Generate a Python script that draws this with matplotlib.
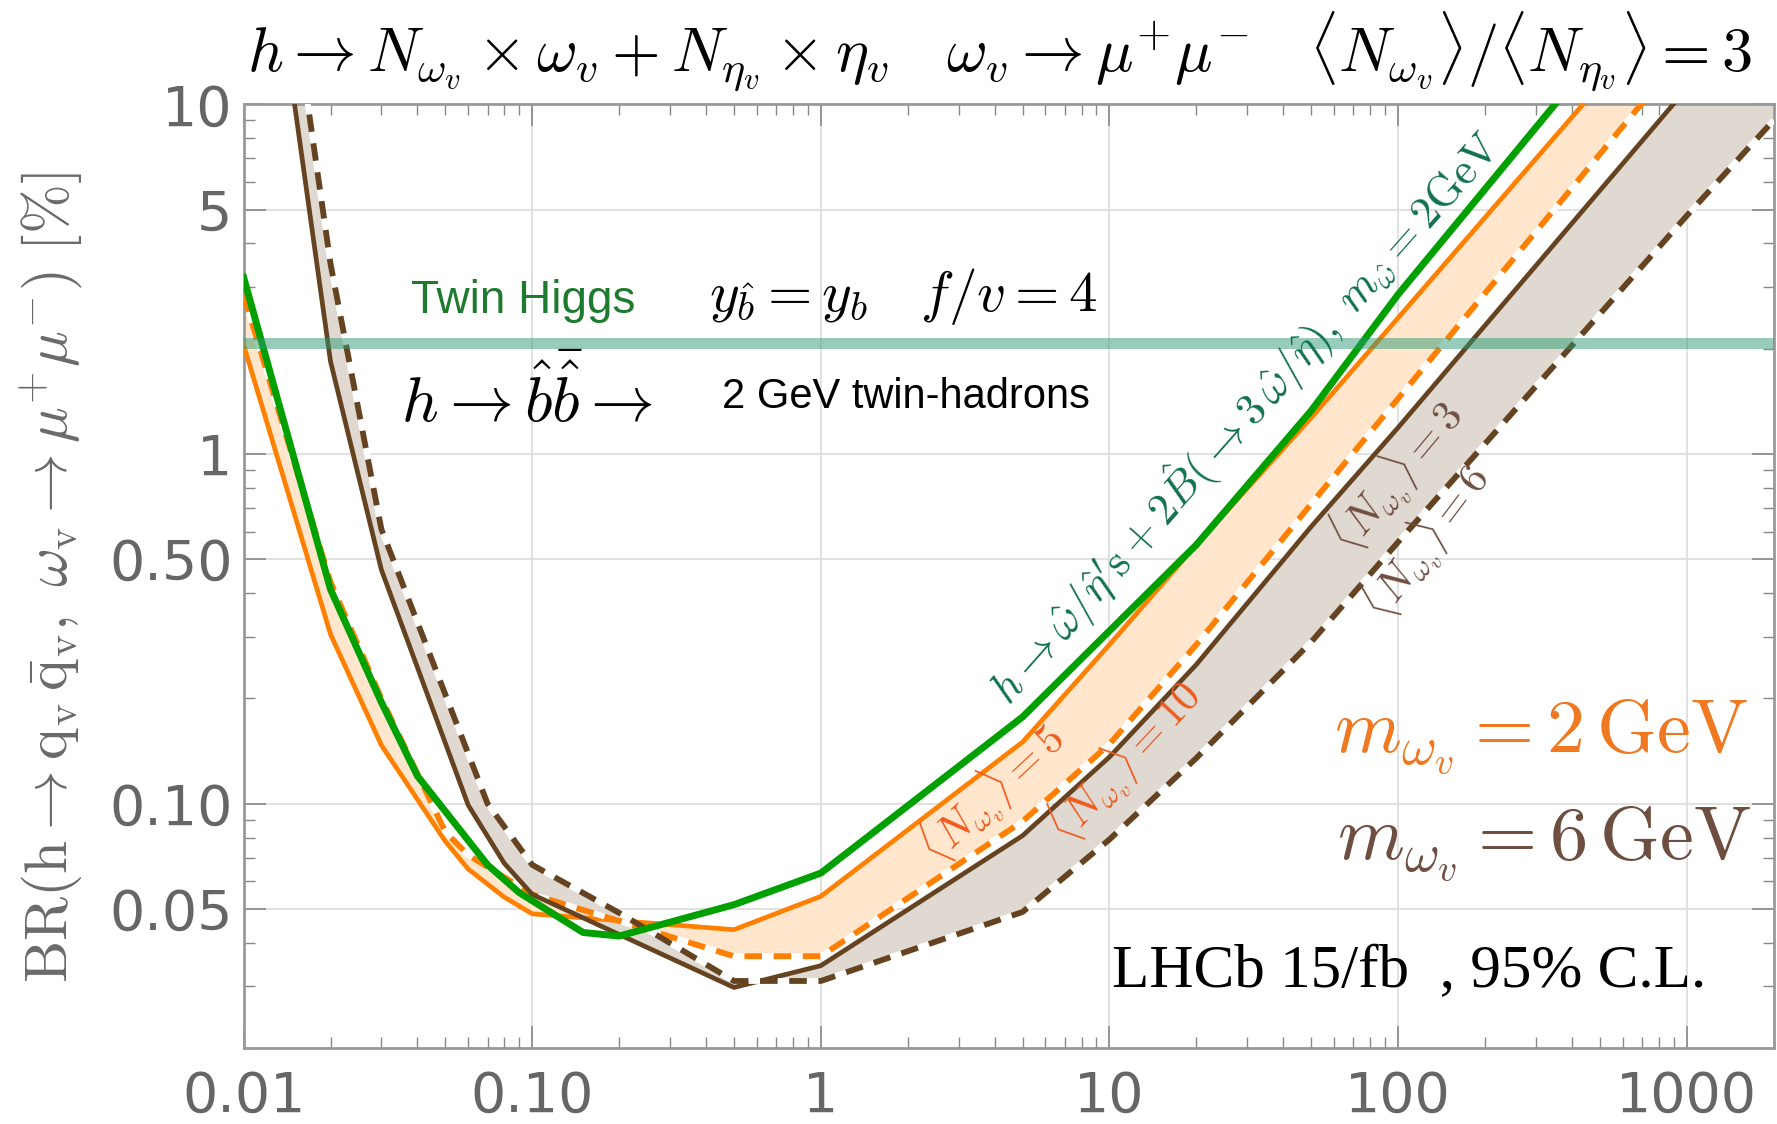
import numpy as np
import matplotlib.pyplot as plt
from matplotlib.ticker import FixedLocator, NullFormatter

plt.rcParams['mathtext.fontset'] = 'cm'

# orange: m_omega = 2 GeV, <N> = 5 (solid) and <N> = 10 (dashed)
x_or5 = [0.01, 0.02, 0.03, 0.05, 0.06, 0.08, 0.1, 0.5, 1, 5, 10, 20, 50, 100, 1000]
y_or5 = [2.05, 0.305, 0.147, 0.078, 0.065, 0.054, 0.0484, 0.0436, 0.0543, 0.15,
         0.285, 0.55, 1.27, 2.45, 22]
x_or10 = [0.01, 0.02, 0.03, 0.05, 0.06, 0.1, 0.5, 1, 5, 10, 20, 50, 100, 1000]
y_or10 = [2.85, 0.43, 0.2, 0.083, 0.0713, 0.055, 0.0366, 0.0366, 0.089, 0.148,
          0.285, 0.72, 1.44, 14.4]

# brown: m_omega = 6 GeV, <N> = 3 (solid) and <N> = 6 (dashed)
x_br3 = [0.01, 0.02, 0.03, 0.06, 0.08, 0.1, 0.5, 1, 5, 10, 20, 50, 100, 1000, 2000]
y_br3 = [110, 1.84, 0.467, 0.099, 0.0675, 0.055, 0.0298, 0.0344, 0.081, 0.136,
         0.25, 0.62, 1.19, 11.1, 22]
x_br6 = [0.01, 0.02, 0.03, 0.07, 0.1, 0.2, 0.5, 1, 5, 10, 20, 50, 100, 1000, 2000]
y_br6 = [195, 3.5, 0.61, 0.1, 0.0668, 0.0487, 0.0311, 0.0311, 0.049, 0.079,
         0.135, 0.29, 0.56, 4.8, 9.0]

# green: twin hadrons, m = 2 GeV
x_gr = [0.01, 0.02, 0.03, 0.04, 0.07, 0.09, 0.15, 0.2, 0.5, 1, 5, 20, 50, 100, 1000]
y_gr = [3.2, 0.41, 0.195, 0.12, 0.0668, 0.0557, 0.0428, 0.0418, 0.0514, 0.0633,
        0.177, 0.55, 1.33, 2.86, 28.6]

# twin higgs prediction band
th_lo, th_hi = 2.0, 2.15

xticks = [0.01, 0.1, 1, 10, 100, 1000]
xlabels = ["0.01", "0.10", "1", "10", "100", "1000"]
yticks = [0.05, 0.1, 0.5, 1, 5, 10]
ylabels = ["0.05", "0.10", "0.50", "1", "5", "10"]

c_or = "#ff8000"
c_br = "#654321"
c_gr = "#00a000"

fig = plt.figure(figsize=(17.77, 11.24), dpi=100)
ax = fig.add_axes([0.1371, 0.0676, 0.861, 0.8396])
ax.set_xscale("log")
ax.set_yscale("log")
ax.set_xlim(0.01, 2000)
ax.set_ylim(0.02, 10)

# bands
ax.fill(x_or5 + x_or10[::-1], y_or5 + y_or10[::-1], color="#ffe6cc", lw=0, zorder=1)
ax.fill(x_br3 + x_br6[::-1], y_br3 + y_br6[::-1], color="#e0d9d2", lw=0, zorder=1)

ax.plot(x_or5, y_or5, color=c_or, lw=3.4, zorder=3)
ax.plot(x_or10, y_or10, color=c_or, lw=4.2, ls=(0, (3, 2)), gapcolor="white", zorder=3)
ax.plot(x_br3, y_br3, color=c_br, lw=3.4, zorder=3)
ax.plot(x_br6, y_br6, color=c_br, lw=4.2, ls=(0, (3, 2)), gapcolor="white", zorder=3)
ax.plot(x_gr, y_gr, color=c_gr, lw=5.0, zorder=4)

ax.axhspan(th_lo, th_hi, color="#2e9a74", alpha=0.5, lw=0, zorder=5)

# axes styling
ax.grid(True, which="major", color="#dcdcdc", lw=1.2, zorder=0)
ax.set_axisbelow(True)
for s in ax.spines.values():
    s.set_color("#999999")
    s.set_linewidth(2)
ax.xaxis.set_major_locator(FixedLocator(xticks))
ax.set_xticklabels(xlabels)
ax.yaxis.set_major_locator(FixedLocator(yticks))
ax.set_yticklabels(ylabels)
ax.xaxis.set_minor_formatter(NullFormatter())
ax.yaxis.set_minor_formatter(NullFormatter())
ax.tick_params(which="both", direction="in", top=True, right=True, color="#888888")
ax.tick_params(which="major", length=16, width=1.2)
ax.tick_params(which="minor", length=8, width=1.0)
ax.tick_params(axis="x", which="major", labelsize=40, labelcolor="#666666", pad=16)
ax.tick_params(axis="y", which="major", labelsize=40, labelcolor="#666666", pad=8)
for lab in ax.get_xticklabels() + ax.get_yticklabels():
    lab.set_family("DejaVu Sans")

fig.text(0.0287, 0.486,
         r"$\mathrm{BR}(\mathrm{h}\rightarrow\mathrm{q_v}\,\bar{\mathrm{q}}_\mathrm{v},\ "
         r"\omega_\mathrm{v}\rightarrow\mu^{+}\mu^{-})\ [\%]$",
         rotation=90, ha="center", va="center", fontsize=43, color="#6a6a6a")

fig.text(0.5626, 0.955,
         r"$h \rightarrow N_{\omega_v} \times \omega_v + N_{\eta_v} \times \eta_v"
         r"\quad \omega_v \rightarrow \mu^{+}\mu^{-}\quad"
         r"\langle N_{\omega_v}\rangle/\langle N_{\eta_v}\rangle = 3$",
         ha="center", va="center", fontsize=45, color="black")

# annotations
ax.text(0.183, 0.792, "Twin Higgs", transform=ax.transAxes, ha="center", va="center",
        fontsize=33, color="#1e7a2e", family="Liberation Sans")
ax.text(0.431, 0.796, r"$y_{\hat{b}} = y_b \quad f/v = 4$", transform=ax.transAxes,
        ha="center", va="center", fontsize=41, color="black")
ax.text(0.185, 0.690, r"$h \rightarrow \hat{b}\bar{\hat{b}} \rightarrow$",
        transform=ax.transAxes, ha="center", va="center", fontsize=46, color="black")
ax.text(0.433, 0.690, "2 GeV twin-hadrons", transform=ax.transAxes, ha="center",
        va="center", fontsize=30, color="black", family="Liberation Sans")

ax.text(0.654, 0.669,
        r"$h \rightarrow \hat{\omega}/\hat{\eta}'\mathrm{s} + 2\hat{B}(\rightarrow 3\,"
        r"\hat{\omega}/\hat{\eta}),\ m_{\hat{\omega}} = 2\mathrm{GeV}$",
        transform=ax.transAxes, ha="center", va="center", rotation=48.5,
        fontsize=32, color="#107050", zorder=6)
ax.text(0.489, 0.270, r"$\langle N_{\omega_v}\rangle = 5$", transform=ax.transAxes,
        ha="center", va="center", rotation=43, fontsize=31, color="#ee5a1c")
ax.text(0.576, 0.304, r"$\langle N_{\omega_v}\rangle = 10$", transform=ax.transAxes,
        ha="center", va="center", rotation=47, fontsize=31, color="#ee5a1c")
ax.text(0.754, 0.606, r"$\langle N_{\omega_v}\rangle = 3$", transform=ax.transAxes,
        ha="center", va="center", rotation=50, fontsize=31, color="#6e4e40")
ax.text(0.773, 0.537, r"$\langle N_{\omega_v}\rangle = 6$", transform=ax.transAxes,
        ha="center", va="center", rotation=53, fontsize=31, color="#6e4e40")

ax.text(0.848, 0.330, r"$m_{\omega_v} = 2\,\mathrm{GeV}$", transform=ax.transAxes,
        ha="center", va="center", fontsize=55, color="#f07820")
ax.text(0.850, 0.216, r"$m_{\omega_v} = 6\,\mathrm{GeV}$", transform=ax.transAxes,
        ha="center", va="center", fontsize=55, color="#6e4e40")
ax.text(0.762, 0.080, "LHCb 15/fb  , 95% C.L.", transform=ax.transAxes,
        ha="center", va="center", fontsize=44, color="black", family="Liberation Serif")

fig.savefig("out.png", dpi=100)
